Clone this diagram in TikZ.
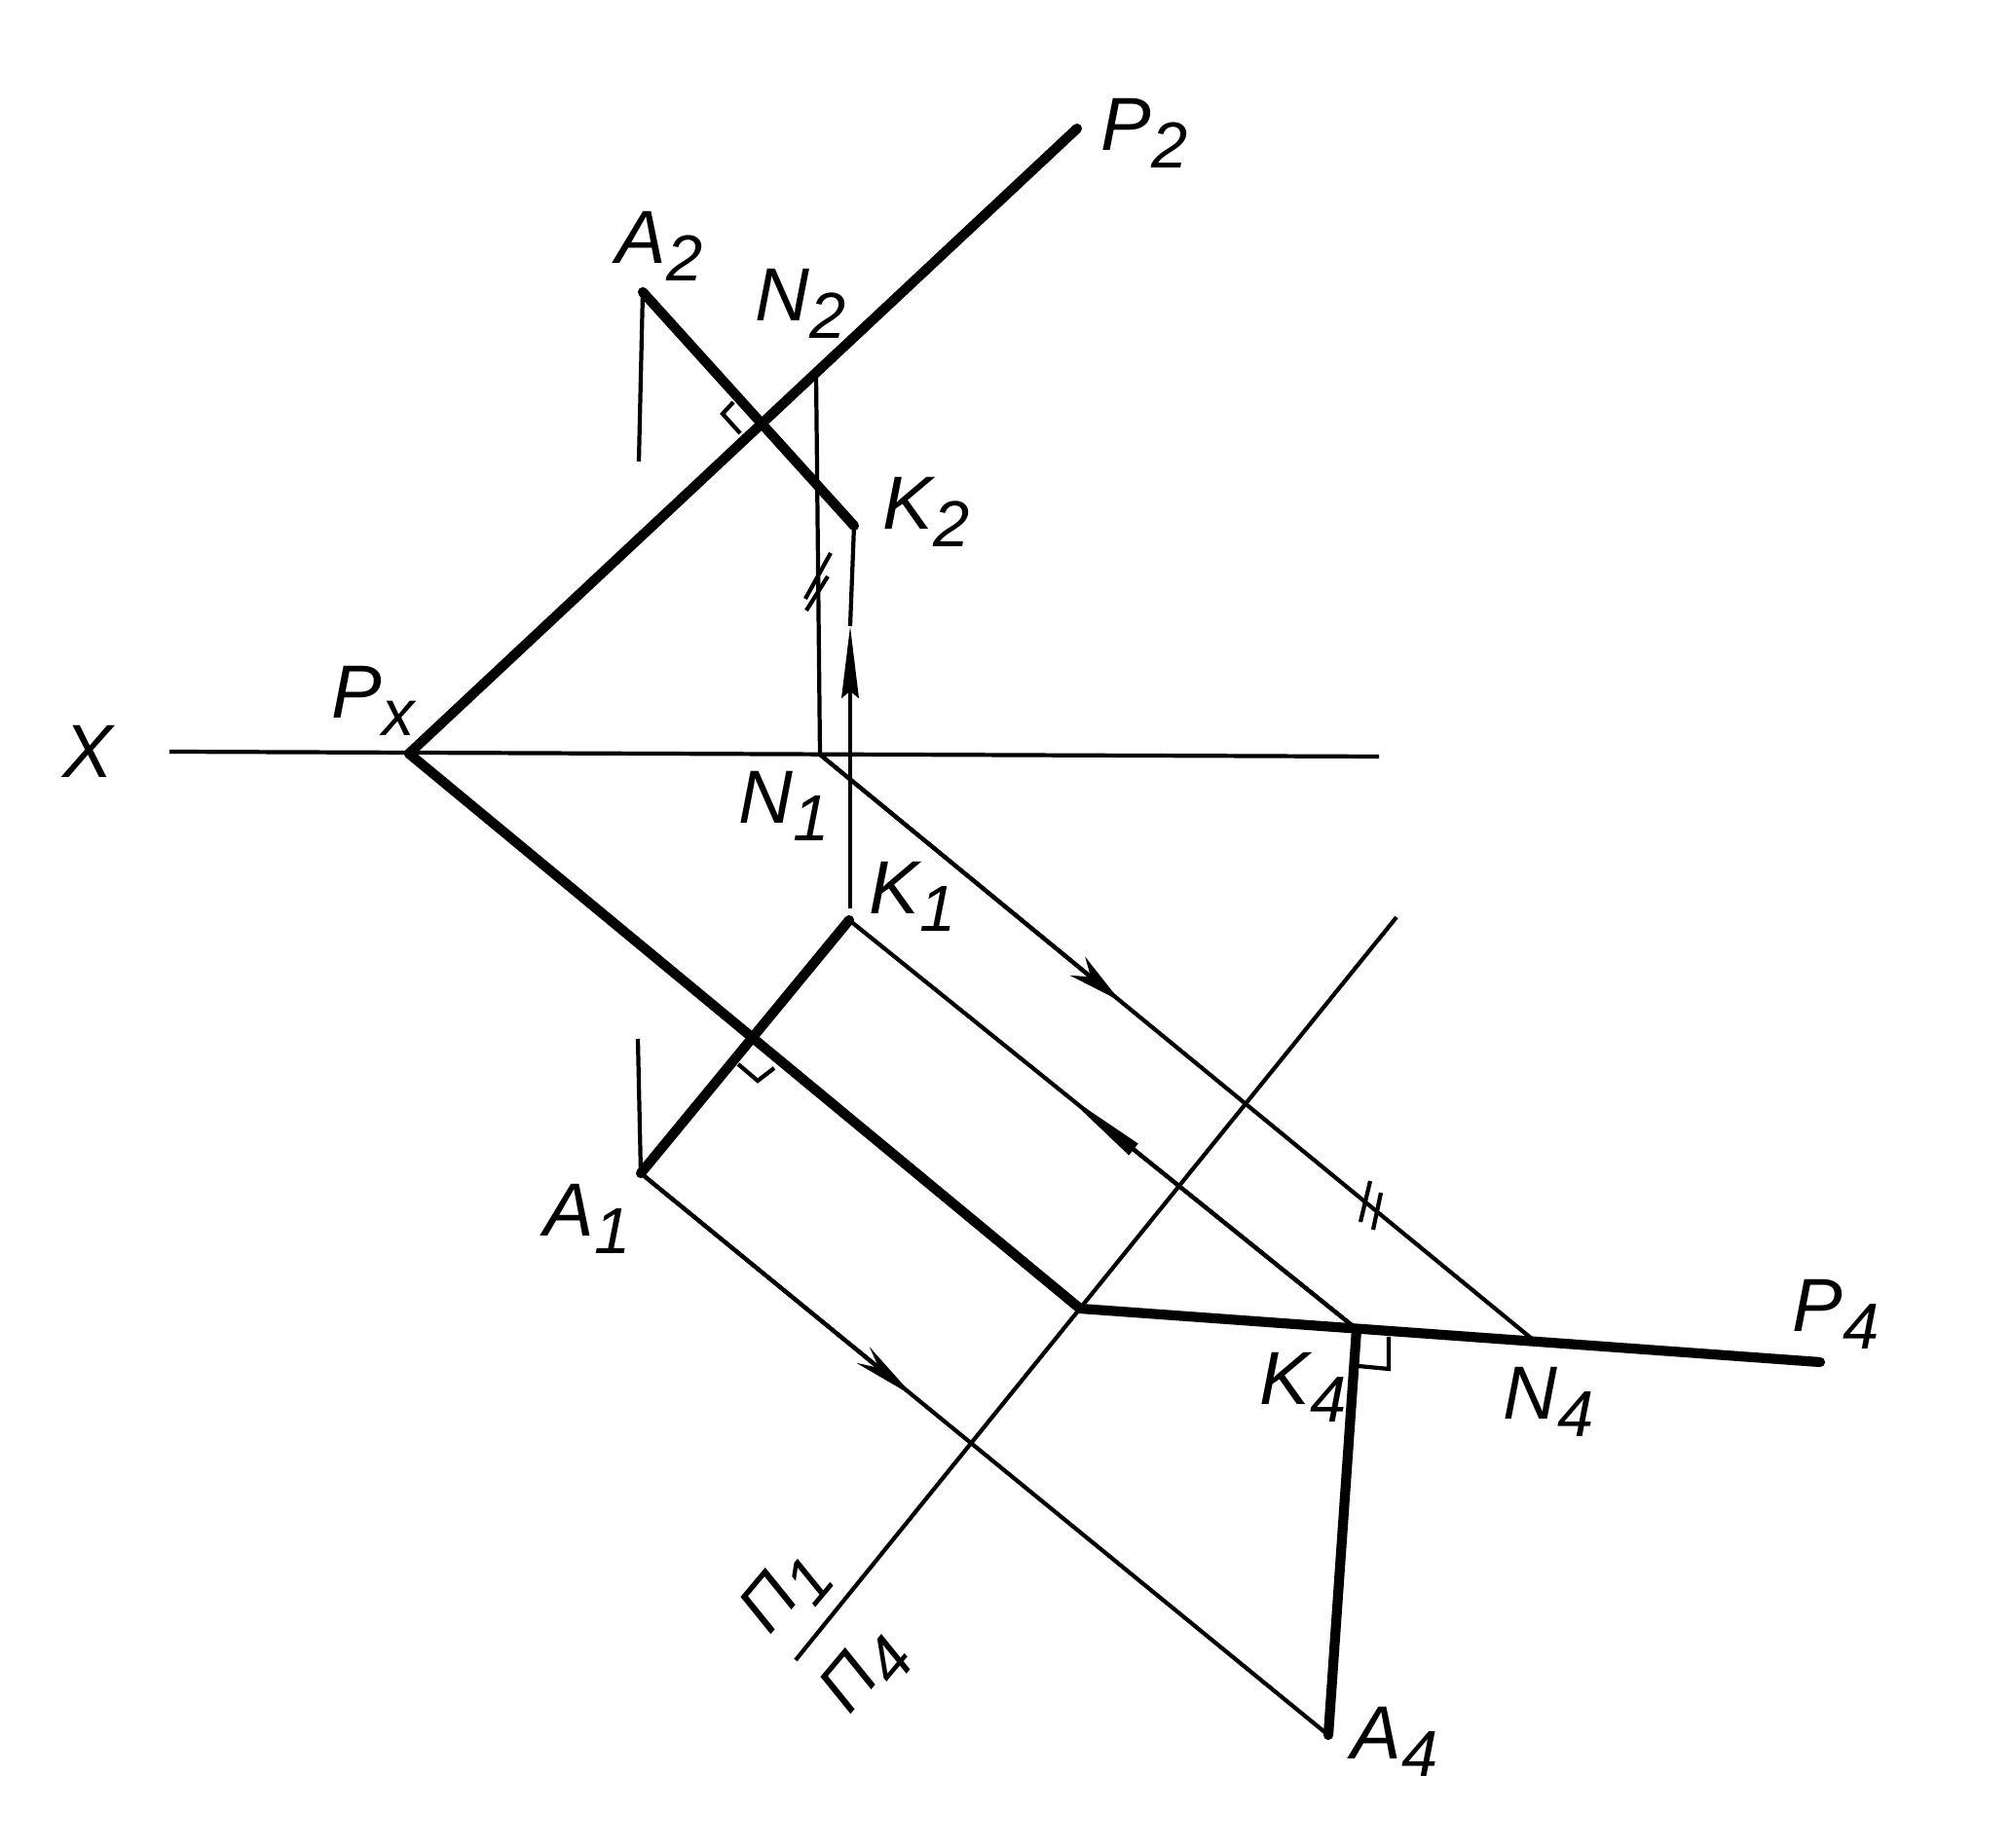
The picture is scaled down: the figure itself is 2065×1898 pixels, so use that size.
\documentclass[tikz,border=0pt]{standalone}
\usepackage{fontspec}
\setmainfont{Liberation Sans}
\usetikzlibrary{arrows.meta}
\tikzset{
  thickl/.style={line width=2.9pt,line cap=round},
  thinl/.style ={line width=1.2pt},
  tick/.style  ={line width=1.2pt},
  pt/.style    ={font=\fontsize{22}{26}\selectfont\itshape,inner sep=0pt}
}
\newcommand{\lab}[2]{#1\raisebox{-0.45ex}{\fontsize{19}{22}\selectfont #2}}
\begin{document}
\begin{tikzpicture}[x=0.01cm,y=-0.01cm]
\useasboundingbox (0,0) rectangle (2065,1898);

% points
\coordinate (Xl) at (174,772);
\coordinate (Xr) at (1416,777);
\coordinate (Px) at (420,774);
\coordinate (P2) at (1106,132);
\coordinate (A2) at (660,300);
\coordinate (A2b) at (656,474);
\coordinate (K2) at (877,540);
\coordinate (N2) at (838,383);
\coordinate (N1) at (842,775);
\coordinate (K1) at (872,945);
\coordinate (K1t) at (873,933);
\coordinate (A1) at (658,1205);
\coordinate (A1t) at (655,1067);
\coordinate (Bd) at (1109,1344);
\coordinate (P4) at (1869,1399);
\coordinate (K4) at (1393,1365);
\coordinate (N4) at (1573,1375);
\coordinate (A4) at (1364,1782);
\coordinate (Pt) at (1434,942);
\coordinate (Pb) at (817,1705);
\coordinate (ArK) at (873,643);
\coordinate (ArN) at (1150,1028);
\coordinate (ArO) at (1090,1121);
\coordinate (ArA) at (938,1434);

% thick lines
\draw[thickl] (Px) -- (P2);
\draw[thickl] (Px) -- (Bd) -- (P4);
\draw[thickl] (A2) -- (K2);
\draw[thickl] (A1) -- (K1);
\draw[thickl] (K4) -- (A4);

% thin lines
\draw[thinl] (Xl) -- (Xr);
\draw[thinl] (Pt) -- (Pb);
\draw[thinl] (A2) -- (A2b);
\draw[thinl] (A1t) -- (A1);
\draw[thinl] (N2) -- (N1);
\draw[thinl,-{Stealth[length=21pt,width=5pt,inset=2pt]}] (K1t) -- (ArK);
\draw[thinl] (ArK) -- (K2);
\draw[thinl] (N1) -- (N4);
\draw[thinl] (K1) -- (K4);
\draw[thinl] (A1) -- (A4);
\draw[thinl,-{Stealth[length=16pt,width=7pt,inset=5pt]}] (N1) -- (ArN);
\draw[thinl,-{Stealth[length=27pt,width=4pt,inset=0pt]}] (K4) -- (ArO);
\draw[thinl,-{Stealth[length=19pt,width=6pt,inset=6pt]}] (A1) -- (ArA);

% right angles and ticks
\draw[tick] (753,413) -- (742,425) -- (760,445);
\draw[tick] (758,1093) -- (778,1110) -- (795,1097);
\draw[tick] (1426,1373) -- (1426,1406) -- (1395,1403);
\draw[tick] (853,568) -- (827,615);
\draw[tick] (850,592) -- (828,627);
\draw[tick] (1407,1213) -- (1397,1255);
\draw[tick] (1418,1225) -- (1410,1263);

% labels
\node[pt] (xl)  at (90,772)    {X};
\node[pt] (a2l) at (677,253)   {\lab{A}{2}};
\node[pt] (n2l) at (822,312)   {\lab{N}{2}};
\node[pt] (k2l) at (951,526)   {\lab{K}{2}};
\node[pt] (p2l) at (1175,137)  {\lab{P}{2}};
\node[pt] (pxl) at (383,720)   {\lab{P}{x}};
\node[pt] (n1l) at (805,828)   {\lab{N}{1}};
\node[pt] (k1l) at (937,921)   {\lab{K}{1}};
\node[pt] (a1l) at (603,1252)  {\lab{A}{1}};
\node[pt] (k4l) at (1338,1425) {\lab{K}{4}};
\node[pt] (n4l) at (1590,1440) {\lab{N}{4}};
\node[pt] (p4l) at (1885,1350) {\lab{P}{4}};
\node[pt] (a4l) at (1432,1789) {\lab{A}{4}};
\node[pt,rotate=50,font=\fontsize{20}{24}\selectfont\itshape] (pi1) at (807,1637) {\lab{П}{1}};
\node[pt,rotate=50,font=\fontsize{20}{24}\selectfont\itshape] (pi4) at (889,1719) {\lab{П}{4}};
\end{tikzpicture}
\end{document}
